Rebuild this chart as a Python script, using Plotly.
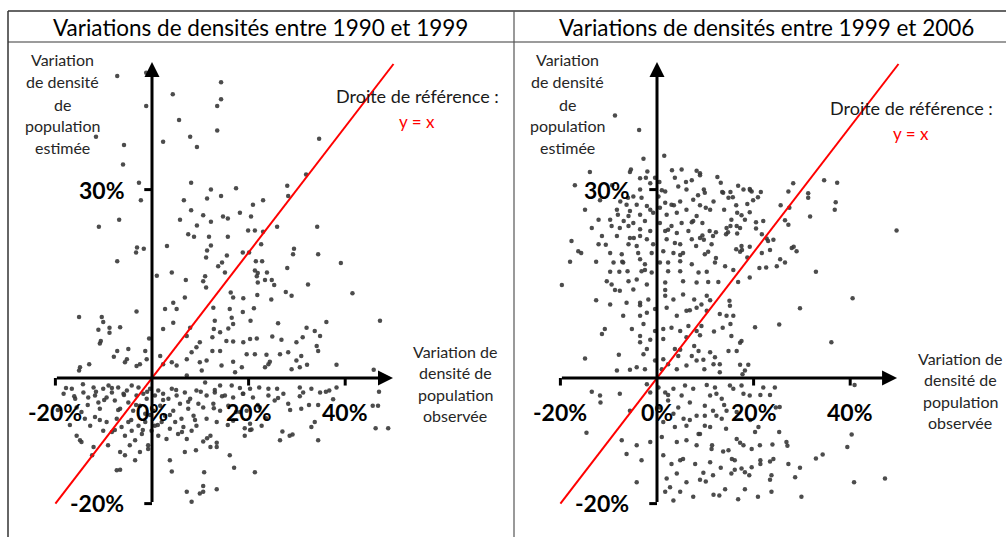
import plotly.graph_objects as go

# ---------------- data (percent) ----------------
left_title = "Variations de densités entre 1990 et 1999"
right_title = "Variations de densités entre 1999 et 2006"

left_pts = [
    (-7.2,48.1),(-1.2,48.6),(4.3,45.2),(-1.2,43.3),(14.3,47.1),(14.3,44.4),(13.5,43.3),(5.6,41.1),(-11.6,38.4),(-5.8,37.1),
    (2.3,37.6),(7.9,38.4),(9.3,36.8),(13.5,39.4),(34.6,38.1),(-6.0,34.0),(-2.7,31.1),(-2.3,28.3),(8.1,31.1),(12.2,30.0),
    (11.4,28.6),(6.6,28.3),(8.1,26.7),(10.6,25.9),(12.2,24.9),(5.8,25.2),(9.3,24.3),(-11.0,24.1),(-6.8,25.2),(7.5,22.9),
    (8.7,22.5),(11.8,22.5),(12.2,21.1),(3.1,21.0),(-3.1,20.8),(-1.7,20.6),(-3.3,20.0),(11.4,20.3),(11.2,19.2),(-7.2,18.6),
    (13.7,17.8),(1.0,16.3),(4.1,16.8),(7.0,15.6),(10.6,15.4),(11.2,14.4),
    (31.9,32.4),(28.0,30.6),(28.2,29.0),(17.4,30.2),(14.3,29.0),(20.9,27.6),(23.0,28.3),(14.7,25.7),(15.7,25.4),(18.2,26.3),
    (20.5,25.7),(25.9,24.1),(34.2,24.1),(19.9,23.5),(21.3,23.5),(23.0,23.3),(15.7,22.5),(22.6,21.3),(15.5,19.5),(18.8,20.0),
    (20.1,20.0),(29.4,20.6),(29.2,19.7),(34.4,19.7),(39.1,18.3),(14.5,18.4),(21.5,18.6),(22.8,18.6),(15.1,16.8),(21.3,17.1),
    (21.9,16.7),(23.8,16.8),(28.0,17.5),(21.7,16.2),(11.0,16.2),(21.9,15.2),(23.4,15.6),(24.8,15.6),(25.3,14.8),(32.3,14.9),
    (-15.1,9.7),(-10.4,9.7),(-10.1,8.9),(-11.1,7.7),(-8.8,8.0),(-8.8,7.2),(-6.6,8.1),(-3.2,10.6),(-10.6,5.9),(-10.8,5.5),
    (-7.2,4.3),(-7.9,3.4),(-4.9,4.6),(-5.2,3.0),(-1.4,4.3),(-0.6,6.3),(-3.2,1.9),(-5.6,2.5),(-2.5,2.2),(-13.0,2.2),
    (-14.9,1.7),(-15.1,1.2),(-1.1,3.0),(2.7,11.0),(5.1,11.0),(4.4,12.0),(6.8,12.8),(2.3,7.8),(4.4,8.8),(7.2,6.7),
    (7.9,8.0),(9.9,5.7),(1.7,3.5),(2.3,2.2),(4.1,2.5),(5.1,2.0),(7.2,3.0),(8.2,4.1),(9.2,4.9),(9.9,2.5),(7.2,0.4),
    (-18.3,-2.5),(-16.6,-1.7),(-15.9,-3.3),(-14.2,-2.3),(-13.2,-3.1),(-12.1,-1.5),(-11.8,-2.8),(-11.1,-3.9),(-10.1,-1.7),(-9.4,-3.1),
    (-9.0,-1.2),(-8.3,-2.3),(-7.7,-3.6),(-7.0,-1.5),(-6.6,-4.9),(-5.9,-2.5),(-5.2,-2.0),(-4.9,-3.9),(-4.2,-1.2),(-3.9,-5.2),
    (-3.2,-2.8),(-2.8,-1.5),(-2.5,-4.4),(-1.8,-2.5),(-1.4,-5.7),(-1.1,-3.3),(-0.4,-1.7),(0.3,-5.2),(0.6,-2.8),(1.3,-2.0),
    (1.7,-4.4),(2.3,-2.5),(2.7,-6.0),(3.4,-3.3),(4.1,-1.7),(4.4,-5.2),(5.1,-2.8),(5.8,-4.1),(6.1,-6.5),(6.8,-2.3),
    (7.5,-4.9),(7.9,-3.3),(8.6,-6.0),(9.2,-2.0),(9.6,-4.1),(-15.6,-4.7),(-14.6,-5.4),(-13.9,-6.5),(-12.8,-7.6),(-11.8,-6.2),
    (-10.8,-4.9),(-10.1,-8.4),(-9.4,-7.0),(-8.3,-8.6),(-7.3,-6.5),(-6.3,-7.8),(-5.6,-9.2),(-4.9,-7.0),(-4.2,-8.4),(-3.5,-9.9),
    (-2.8,-7.6),(-2.1,-8.9),(-1.4,-7.0),(-0.8,-10.7),(-0.1,-8.4),(0.6,-7.6),(1.3,-9.2),(2.0,-7.0),(3.0,-9.7),(3.7,-8.1),
    (4.8,-7.0),(5.4,-8.9),(6.5,-7.8),(7.2,-9.7),(8.2,-8.4),(9.2,-7.6),(-15.6,-9.2),(-14.6,-10.2),(-12.1,-11.0),(-7.3,-14.7),
    (6.8,-11.8),(4.1,-14.9),(7.2,-18.1),(8.2,-19.7),(9.9,-18.4),(-6.6,-11.8),(-4.6,-10.7),(-2.5,-11.8),(-5.6,-12.3),(-0.8,-11.3),
    (41.5,13.5),(16.3,13.6),(16.8,12.8),(18.9,12.7),(21.8,13.2),(24.7,12.5),(27.7,13.7),(28.9,13.1),(12.7,11.2),(16.1,11.0),
    (18.8,10.5),(21.1,11.1),(20.4,9.1),(26.1,8.7),(36.1,8.9),(47.2,9.1),(13.0,9.1),(16.5,9.6),(32.0,8.0),(33.7,7.5),
    (34.8,6.7),(12.8,7.8),(14.1,7.3),(15.8,7.9),(16.8,8.6),(12.5,6.5),(15.4,5.9),(16.8,5.8),(18.9,5.7),(20.3,6.2),
    (21.7,6.3),(24.9,6.6),(26.8,6.1),(29.9,5.7),(31.2,6.5),(34.1,5.1),(34.4,4.3),(12.5,4.3),(14.1,4.3),(19.6,3.8),
    (21.3,3.8),(23.7,3.7),(26.5,3.8),(28.2,4.1),(30.9,3.5),(29.9,2.8),(16.8,2.6),(18.6,1.7),(23.4,1.7),(24.1,2.2),
    (24.4,2.6),(28.9,1.4),(30.6,1.7),(32.1,2.1),(38.2,2.1),(45.9,1.3),(11.3,2.8),(14.4,2.0),(10.3,1.2),(17.2,0.9),
    (11.0,-0.7),(14.1,-1.2),(16.5,-1.2),(18.2,-1.6),(20.3,-1.7),(22.2,-1.5),(24.1,-1.7),(25.9,-1.7),(27.2,-2.5),(30.6,-1.5),
    (31.3,-2.3),(33.0,-1.7),(34.8,-2.3),(38.2,-1.5),(36.7,-2.0),(47.0,-2.2),(11.3,-2.8),(13.0,-2.3),(15.1,-2.8),(16.8,-3.1),
    (18.9,-2.5),(20.9,-3.1),(24.1,-2.8),(25.4,-3.6),(28.2,-4.1),(30.9,-4.9),(32.5,-4.3),(37.5,-3.4),(45.7,-4.4),(46.8,-4.4),
    (10.6,-4.7),(12.7,-4.1),(14.1,-5.2),(15.8,-4.4),(18.2,-5.4),(19.6,-5.2),(22.3,-4.7),(11.3,-6.5),(13.4,-7.0),(16.8,-6.8),
    (20.3,-7.3),(22.7,-7.6),(19.2,-8.0),(20.6,-8.2),(33.7,-7.0),(33.0,-7.8),(46.3,-8.0),(48.9,-8.0),(27.0,-8.5),(28.5,-9.2),
    (29.1,-9.0),(19.2,-9.2),(12.1,-9.2),(10.6,-10.1),(13.4,-10.3),(13.4,-11.0),(34.4,-9.9),(12.1,-11.0),(10.8,-15.0),(17.0,-14.3),
    (21.3,-15.0),(10.6,-17.2),(10.6,-18.1),(13.4,-17.7),
    # denser lower band
    (-17.8,-1.6),(-16.1,-2.9),(-14.3,-1.0),(-13.3,-4.3),(-11.6,-2.2),(-9.9,-3.5),(-8.3,-1.6),(-7.0,-5.1),(-5.8,-2.7),(-4.3,-6.7),
    (-3.3,-4.3),(-1.9,-8.3),(-1.0,-2.2),(1.2,-7.5),(2.3,-3.5),(3.7,-5.9),(5.0,-1.9),(6.2,-8.6),(7.5,-3.8),(8.9,-6.7),
    (10.1,-2.2),(11.4,-9.6),(12.8,-4.8),(14.5,-2.9),(15.7,-7.5),(17.4,-5.4),(18.8,-2.5),(20.3,-8.3),(21.9,-4.3),(23.6,-6.4),
    (26.1,-3.2),(28.6,-5.1),(30.6,-2.9),(34.4,-4.3),(36.0,-2.2),(-19.5,-5.1),(-17.0,-7.5),(-14.9,-9.9),(-12.4,-12.3),(-9.1,-10.7),
    (-6.6,-14.6),(-3.5,-13.1),(3.7,-13.1),(9.1,-11.5),(16.1,-12.3),(26.5,-9.9),(-10.8,-6.7),(-7.7,-8.3),(-0.4,-5.9),(13.0,-1.9),
]

right_pts = [
    (-8.7,41.8),(-3.7,39.5),(1.5,35.4),(-2.8,34.9),
    (-5.4,33.2),(-2.0,32.9),(-2.3,31.9),(-0.4,31.9),(-1.4,31.0),(0.5,31.2),(1.7,29.7),(3.7,31.9),(5.1,33.2),(8.2,33.0),
    (7.2,31.5),(6.1,30.0),(4.4,30.5),(-3.5,30.0),(-4.9,28.9),(-3.2,28.7),(0.3,28.9),(-7.6,28.1),(-6.3,27.6),(-4.2,27.6),
    (-2.1,27.4),(1.7,27.9),(3.0,27.6),(4.8,28.1),(7.5,28.4),(-8.3,26.8),(-5.6,26.6),(-3.5,26.0),(-0.8,26.3),(0.6,27.1),
    (2.0,26.0),(4.1,26.3),(6.1,26.8),(8.2,25.8),(-5.9,25.8),(-9.7,25.2),(-12.1,25.2),(-6.9,25.0),(-4.9,24.7),(-2.5,25.0),
    (0.6,24.7),(3.0,24.2),(5.1,24.7),(7.5,25.0),(-9.4,24.2),(-7.7,23.9),(-5.9,24.2),(-3.5,23.7),(-1.4,23.4),(1.7,23.4),
    (4.1,23.1),(6.5,23.4),(-11.4,22.6),(-8.3,22.6),(-5.6,22.3),(-3.5,22.6),(-2.1,22.1),(2.0,22.1),(3.7,21.5),(4.8,21.3),
    (7.2,22.1),(8.1,21.0),(-17.7,21.8),(-12.1,21.3),(-5.9,21.3),(-4.2,21.0),(-0.8,21.3),(-16.3,20.2),(-15.7,19.9),(-9.7,19.9),
    (-7.3,19.7),(-3.9,19.9),(-1.1,19.9),(1.3,20.2),(3.4,19.9),(5.4,19.9),(-18.0,18.5),(-12.6,18.5),(-9.0,18.4),(-7.0,18.4),
    (-3.5,18.9),(-2.5,18.1),(0.6,18.4),(2.3,18.4),(4.8,18.6),(7.2,18.1),(-9.7,16.9),(-7.8,16.9),(-6.1,17.0),(-3.2,17.0),
    (-1.1,16.8),(2.3,17.0),(4.8,17.0),(8.6,16.8),(-19.7,14.8),(-10.4,15.4),(-9.4,14.9),(-5.9,15.4),(-4.2,15.7),(-2.1,14.9),
    (1.7,15.2),(5.4,15.4),(8.2,15.2),
    (8.9,32.6),(12.5,32.0),(13.2,31.1),(9.7,30.0),(9.9,29.5),(13.7,29.5),(15.2,29.6),(16.8,30.6),(17.9,30.0),(19.2,30.1),
    (19.6,29.7),(21.5,29.6),(14.8,28.7),(15.7,28.8),(19.9,28.3),(20.9,28.8),(11.7,28.1),(8.9,27.5),(10.1,27.1),(13.9,26.8),
    (16.6,26.3),(18.7,27.7),(19.2,26.4),(17.5,25.9),(15.4,25.2),(15.2,24.2),(16.5,24.2),(17.2,23.9),(18.2,25.2),(9.4,24.7),
    (14.4,23.9),(12.2,23.2),(10.9,23.4),(9.4,22.7),(8.9,22.3),(11.6,22.6),(14.3,22.9),(16.6,23.0),(20.5,23.8),(22.0,25.0),
    (21.7,22.9),(22.7,22.2),(23.0,21.8),(24.1,22.0),(11.3,21.3),(10.6,20.1),(9.9,19.7),(16.4,20.5),(17.5,21.0),(19.2,20.9),
    (17.2,20.1),(21.7,19.9),(23.4,20.4),(18.7,19.2),(12.0,18.4),(14.1,17.8),(15.8,17.2),(10.3,16.9),(21.2,17.5),(22.6,17.6),
    (10.6,15.3),(12.7,15.3),(16.8,15.3),(19.2,16.0),(25.6,27.5),(27.2,29.7),(28.2,31.0),(27.4,27.1),(26.5,25.1),(27.2,24.4),
    (31.3,29.4),(31.3,28.7),(31.7,25.7),(34.6,31.5),(37.3,31.1),(37.0,28.0),(36.8,26.8),(49.6,23.5),(27.9,20.7),(28.3,20.9),
    (28.9,20.2),(25.5,18.9),(26.5,18.4),(32.9,16.9),(24.8,17.8),
    (-7.7,13.9),(-4.9,14.1),(1.7,13.1),(3.4,12.5),(5.4,13.3),(7.7,12.5),(9.2,11.7),(-9.7,11.7),(-6.3,12.0),(-3.5,12.0),
    (-1.8,12.5),(-0.4,11.0),(2.0,11.2),(4.1,9.9),(6.1,10.7),(8.2,11.2),(10.3,10.7),(-7.0,9.9),(-3.5,9.9),(-2.1,10.4),
    (-2.8,8.6),(-5.2,7.8),(-10.8,7.8),(-11.4,7.0),(-3.5,6.7),(-0.4,7.5),(1.3,7.8),(3.0,8.0),(4.8,7.5),(6.5,8.3),
    (8.2,7.5),(1.3,6.2),(3.7,4.6),(6.1,6.5),(7.7,5.1),(8.6,4.3),(-3.5,5.7),(-2.1,4.6),(-14.9,3.1),(-7.9,3.7),
    (-2.8,3.8),(-4.2,1.7),(-5.6,1.3),(-8.3,1.2),(-2.5,1.4),(-0.4,2.8),(1.3,3.0),(1.0,1.4),(2.3,2.2),(4.1,1.4),
    (6.1,2.0),(8.2,2.8),(4.4,3.5),(7.2,3.5),
    (-13.5,-2.2),(-11.8,-2.8),(-11.7,-3.9),(-7.7,-2.5),(-2.1,-1.0),(-1.4,-2.3),(0.3,-1.5),(1.7,-2.3),(3.4,-1.7),(5.8,-1.2),
    (7.5,-1.7),(5.1,-2.8),(2.3,-3.6),(0.6,-4.7),(4.4,-4.7),(6.8,-3.9),(-5.6,-5.2),(3.4,-5.7),(5.5,-6.5),(8.2,-6.0),
    (1.3,-7.0),(3.7,-7.8),(6.1,-7.6),(8.6,-8.9),(-14.6,-8.7),(-7.3,-9.9),(-4.2,-10.7),(-1.4,-10.2),(1.0,-9.4),(4.1,-10.2),
    (6.1,-9.9),(8.2,-10.7),(-6.3,-12.1),(-3.2,-13.1),(1.3,-12.3),(3.0,-13.7),(5.4,-12.9),(7.9,-13.7),(-4.2,-16.6),(2.0,-16.0),
    (4.1,-15.2),(6.1,-16.6),(2.7,-17.4),(1.7,-18.1),(4.8,-18.1),(7.5,-18.9),(3.4,-19.5),
    (10.3,13.1),(15.0,12.3),(15.1,11.5),(40.5,12.7),(29.6,11.1),(13.0,10.2),(14.4,9.9),(15.8,9.9),(9.2,8.3),(11.8,7.4),
    (13.6,8.0),(15.2,8.6),(20.3,8.1),(25.3,8.5),(15.4,6.7),(17.5,5.9),(17.2,5.6),(36.1,5.7),(11.0,4.1),(12.0,3.3),
    (14.8,4.3),(16.5,4.3),(9.6,2.9),(11.7,2.2),(13.0,2.2),(17.2,2.1),(18.9,2.1),(9.8,1.4),(13.0,0.9),(18.2,1.2),(17.7,0.6),
    (10.3,-1.1),(12.0,-1.5),(15.1,-1.2),(17.5,-1.2),(22.0,-1.5),(24.4,-1.5),(40.9,-1.1),(11.0,-2.8),(12.3,-2.5),(15.8,-1.7),
    (17.9,-2.5),(19.2,-2.8),(21.4,-2.7),(23.4,-2.7),(13.4,-3.3),(9.9,-4.4),(11.6,-5.2),(14.4,-5.2),(16.5,-5.4),(24.6,-4.7),
    (25.4,-4.6),(9.9,-6.0),(12.3,-6.0),(13.4,-6.5),(9.9,-7.6),(11.0,-7.8),(14.3,-8.1),(20.3,-8.6),(21.0,-7.8),(25.3,-8.6),
    (40.3,-9.0),(8.9,-8.9),(16.5,-9.7),(17.2,-10.3),(17.9,-10.7),(23.9,-10.6),(26.8,-10.2),(27.0,-10.8),(39.4,-11.0),(11.3,-11.3),
    (13.7,-11.7),(14.8,-11.5),(15.5,-12.9),(16.1,-13.1),(19.6,-11.3),(21.4,-13.1),(21.4,-13.7),(23.4,-13.3),(24.1,-12.9),(27.2,-13.7),
    (29.6,-14.3),(32.9,-12.8),(34.3,-12.2),(11.0,-13.4),(13.2,-14.3),(17.5,-14.4),(19.6,-14.2),(9.6,-15.1),(11.6,-15.5),(15.4,-15.2),
    (18.2,-15.0),(19.1,-15.5),(23.7,-15.5),(28.6,-15.8),(40.8,-16.6),(47.2,-16.0),(10.1,-16.5),(14.1,-17.7),(18.2,-17.7),(23.7,-18.1),
    (11.7,-18.6),(12.9,-18.7),(16.8,-19.3),(20.9,-18.9),(29.9,-18.9),
    # denser upper cluster
    (-14.9,26.8),(-13.5,23.9),(-11.8,28.3),(-10.6,21.2),(-9.3,30.7),(-8.1,26.0),(-7.2,18.5),(-6.0,28.7),(-4.8,22.3),(-3.5,31.8),
    (-2.5,17.2),(-1.4,26.8),(1.0,29.9),(2.3,23.6),(3.5,27.5),(4.8,19.6),(6.0,31.2),(7.2,24.8),(8.5,29.1),(9.7,22.0),
    (11.0,26.8),(12.2,19.1),(13.5,29.6),(14.7,23.2),(16.4,27.5),(17.6,20.4),(19.3,29.9),(20.5,24.8),(-17.0,30.7),(-13.9,32.8),
    (-5.6,32.8),(3.1,33.1),(8.9,32.3),(-12.6,12.4),(-8.7,14.0),(-3.5,11.6),(1.7,14.0),(6.8,10.8),(11.0,12.4),(-1.4,6.1),
    (4.8,4.5),(8.9,6.8),
    (2.3,-2.7),(6.8,-6.7),(11.4,-10.7),(16.1,-14.6),(8.9,-16.2),(21.3,-10.7),(4.8,-13.1),(13.9,-4.3),(19.3,-6.7),(23.4,-16.2),
]

ref_x = [-20, 50]
ref_y = [-20, 50]
x_ticks = [-20, 0, 20, 40]
y_ticks = [30, -20]
y_label_lines = ["Variation", "de densité", "de", "population", "estimée"]
x_label_lines = ["Variation de", "densité de", "population", "observée"]
ref_label = "Droite de référence :"
ref_eq = "y = x"

left_x = [p[0] for p in left_pts]
left_y = [p[1] for p in left_pts]
right_x = [p[0] for p in right_pts]
right_y = [p[1] for p in right_pts]

# ---------------- layout helpers ----------------
W, H = 1006, 537
FONT = "Lato"
def PX(p): return p / W
def PY(p): return 1 - p / H

XS = 4.83   # px per percent (x)
YS = 6.28   # px per percent (y)
OY = 378    # pixel row of y = 0

def xrange_for(left_px, right_px, origin_px):
    return [(left_px - origin_px) / XS, (right_px - origin_px) / XS]

yrange = [-(H - OY) / YS, OY / YS]

fig = go.Figure()
marker = dict(size=4.5, color="#383838", opacity=0.9)
fig.add_trace(go.Scatter(x=left_x, y=left_y, mode="markers", marker=marker, xaxis="x", yaxis="y", hoverinfo="skip"))
fig.add_trace(go.Scatter(x=ref_x, y=ref_y, mode="lines", line=dict(color="#ff0000", width=2), xaxis="x", yaxis="y", hoverinfo="skip"))
fig.add_trace(go.Scatter(x=right_x, y=right_y, mode="markers", marker=marker, xaxis="x2", yaxis="y2", hoverinfo="skip"))
fig.add_trace(go.Scatter(x=ref_x, y=ref_y, mode="lines", line=dict(color="#ff0000", width=2), xaxis="x2", yaxis="y2", hoverinfo="skip"))

ax_common = dict(visible=False, fixedrange=True)
fig.update_layout(
    width=W, height=H, margin=dict(l=0, r=0, t=0, b=0),
    paper_bgcolor="white", plot_bgcolor="white", showlegend=False,
    xaxis=dict(domain=[0, 513 / W], range=xrange_for(0, 513, 152), **ax_common),
    yaxis=dict(domain=[0, 1], range=yrange, **ax_common),
    xaxis2=dict(domain=[515 / W, 1], range=xrange_for(515, W, 657), anchor="y2", **ax_common),
    yaxis2=dict(domain=[0, 1], range=yrange, anchor="x2", **ax_common),
)

shapes = []
# panel frame
for (x0, y0, x1, y1, c, w) in [
    (8, 11, W, 11, "#333", 1.5), (8, 42, W, 42, "#7a7a7a", 1.5),
    (8, 11, 8, H, "#333", 1.5), (514, 11, 514, H, "#555", 1.2)]:
    shapes.append(dict(type="line", xref="paper", yref="paper", x0=PX(x0), y0=PY(y0), x1=PX(x1), y1=PY(y1),
                       line=dict(color=c, width=w)))

annotations = []
panels = [
    dict(xr="x", yr="y", title=left_title, tcx=260, ylab_cx=62, ref_cx=417, ref_y=96, eq_y=121,
         xlab_cx=455, xlab_y0=351, xtip=49.9),
    dict(xr="x2", yr="y2", title=right_title, tcx=766, ylab_cx=567, ref_cx=911, ref_y=108, eq_y=133,
         xlab_cx=960, xlab_y0=358, xtip=49.7),
]

def ptext(cx, cy, text, size, color, weight="normal"):
    return dict(x=PX(cx), y=PY(cy), xref="paper", yref="paper", text=text, showarrow=False,
                xanchor="center", yanchor="middle",
                font=dict(family=FONT, size=size, color=color, weight=weight))

for P in panels:
    xr, yr = P["xr"], P["yr"]
    # axes with arrows
    annotations.append(dict(x=0, y=50.3, ax=0, ay=-20, xref=xr, yref=yr, axref=xr, ayref=yr, text="",
                            showarrow=True, arrowhead=2, arrowsize=1.0, arrowwidth=3, arrowcolor="black", standoff=0))
    annotations.append(dict(x=P["xtip"], y=0, ax=-20, ay=0, xref=xr, yref=yr, axref=xr, ayref=yr, text="",
                            showarrow=True, arrowhead=2, arrowsize=1.0, arrowwidth=3, arrowcolor="black", standoff=0))
    # ticks
    for v in x_ticks:
        if v == 0:
            continue
        shapes.append(dict(type="line", xref=xr, yref=yr, x0=v, x1=v, y0=0, y1=-1.2, line=dict(color="black", width=3)))
    for v in y_ticks:
        shapes.append(dict(type="line", xref=xr, yref=yr, x0=0, x1=-1.6, y0=v, y1=v, line=dict(color="black", width=3)))
    # tick labels
    for v in x_ticks:
        annotations.append(dict(x=v, y=0, xref=xr, yref=yr, text=f"{v}%", showarrow=False, yshift=-34,
                                xanchor="center", yanchor="middle",
                                font=dict(family=FONT, size=23, color="black", weight="bold")))
    for v in y_ticks:
        annotations.append(dict(x=0, y=v, xref=xr, yref=yr, text=f"{v}%", showarrow=False,
                                xanchor="center", yanchor="middle",
                                xshift=-50 if v > 0 else -55, yshift=0 if v > 0 else 1,
                                font=dict(family=FONT, size=23, color="black", weight="bold")))
    # title
    annotations.append(ptext(P["tcx"], 27, P["title"], 22.5, "black"))
    # y label
    for i, t in enumerate(y_label_lines):
        annotations.append(ptext(P["ylab_cx"], 60 + 22 * i, t, 16, "#262626"))
    # x label
    for i, t in enumerate(x_label_lines):
        annotations.append(ptext(P["xlab_cx"], P["xlab_y0"] + 21.5 * i, t, 16, "#262626"))
    # reference line legend
    annotations.append(ptext(P["ref_cx"], P["ref_y"], ref_label, 18, "#1a1a1a"))
    annotations.append(ptext(P["ref_cx"], P["eq_y"], ref_eq, 17, "#ff0000"))

fig.update_layout(shapes=shapes, annotations=annotations)
fig.write_html("out.html", config={"displayModeBar": False},
               post_script="document.body.style.margin='0px';document.body.style.overflow='hidden';")
